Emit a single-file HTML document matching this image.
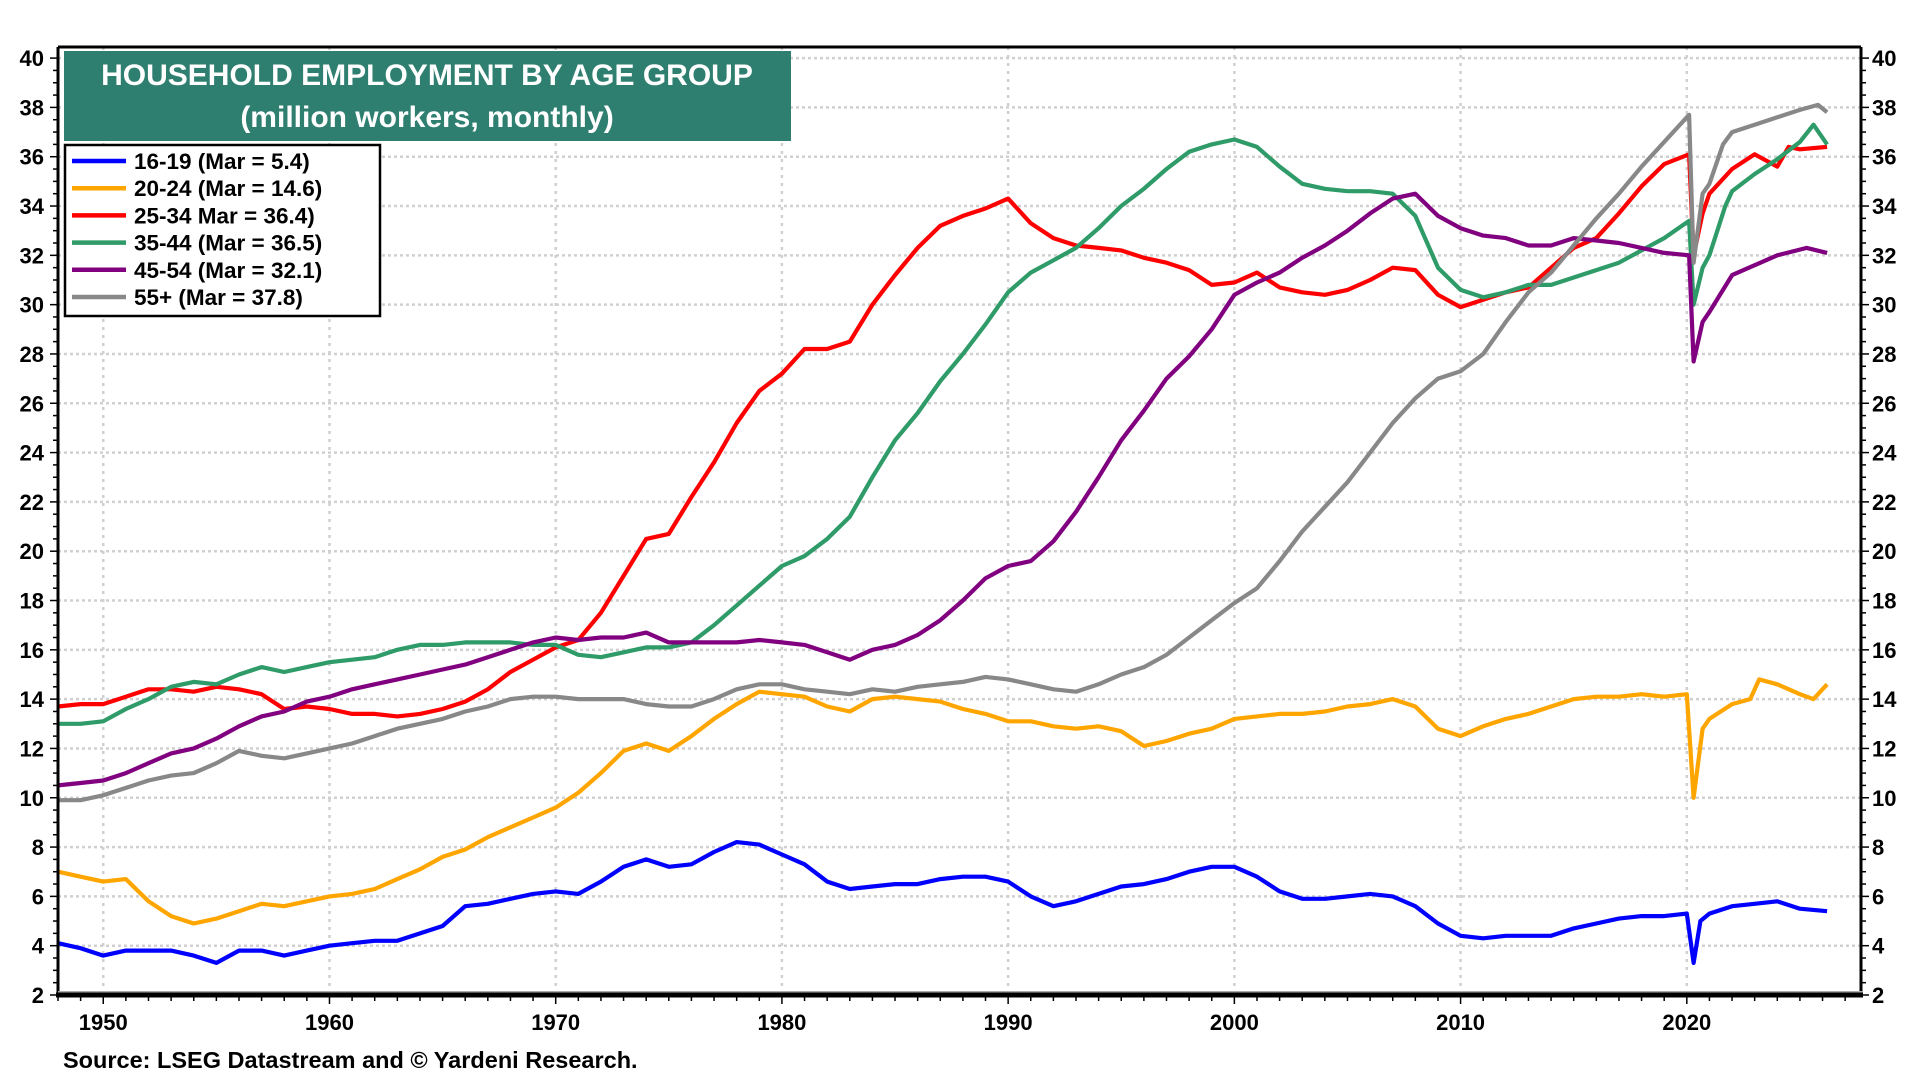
<!DOCTYPE html>
<html><head><meta charset="utf-8">
<style>
html,body{margin:0;padding:0;background:#fff;width:1920px;height:1080px;overflow:hidden}
svg{display:block}
text{font-family:"Liberation Sans",Arial,sans-serif;font-weight:bold}
</style></head>
<body>
<svg id="chart" width="1920" height="1080" xmlns="http://www.w3.org/2000/svg">
  <g id="grid"></g>
  <g id="series"></g>
  <g id="axes"></g>
  <g>
    <rect x="64" y="51" width="727" height="90" fill="#2f7f71"/>
    <text x="427" y="85" fill="#fff" font-size="30" text-anchor="middle">HOUSEHOLD EMPLOYMENT BY AGE GROUP</text>
    <text x="427" y="127" fill="#fff" font-size="30" text-anchor="middle">(million workers, monthly)</text>
  </g>
  <g id="legend">
    <rect x="65" y="145" width="315" height="171" fill="#fff" stroke="#000" stroke-width="2.5"/>
  </g>
  <text x="63" y="1068" font-size="23.5" fill="#000">Source: LSEG Datastream and © Yardeni Research.</text>
</svg>
<script>
// ---- data ----
const labels = ["16-19 (Mar = 5.4)","20-24 (Mar = 14.6)","25-34 Mar = 36.4)","35-44 (Mar = 36.5)","45-54 (Mar = 32.1)","55+ (Mar = 37.8)"];
const colors = ["#0000ff","#ffa500","#ff0000","#2e9b68","#800080","#888888"];
const yearsA = [1948,1949,1950,1951,1952,1953,1954,1955,1956,1957,1958,1959,1960,1961,1962,1963,1964,1965,1966,1967,1968,1969,1970,1971,1972,1973,1974,1975,1976,1977,1978,1979,1980,1981,1982,1983,1984,1985,1986,1987,1988,1989,1990,1991,1992,1993,1994,1995,1996,1997,1998,1999,2000,2001,2002,2003,2004,2005,2006,2007,2008,2009,2010,2011,2012,2013,2014,2015,2016,2017,2018,2019];
const teen = [4.1,3.9,3.6,3.8,3.8,3.8,3.6,3.3,3.8,3.8,3.6,3.8,4.0,4.1,4.2,4.2,4.5,4.8,5.6,5.7,5.9,6.1,6.2,6.1,6.6,7.2,7.5,7.2,7.3,7.8,8.2,8.1,7.7,7.3,6.6,6.3,6.4,6.5,6.5,6.7,6.8,6.8,6.6,6.0,5.6,5.8,6.1,6.4,6.5,6.7,7.0,7.2,7.2,6.8,6.2,5.9,5.9,6.0,6.1,6.0,5.6,4.9,4.4,4.3,4.4,4.4,4.4,4.7,4.9,5.1,5.2,5.2];
const teenTail = [[2020.0,5.3],[2020.3,3.3],[2020.6,5.0],[2021,5.3],[2022,5.6],[2023,5.7],[2024,5.8],[2025,5.5],[2026.2,5.4]];
const young = [7.0,6.8,6.6,6.7,5.8,5.2,4.9,5.1,5.4,5.7,5.6,5.8,6.0,6.1,6.3,6.7,7.1,7.6,7.9,8.4,8.8,9.2,9.6,10.2,11.0,11.9,12.2,11.9,12.5,13.2,13.8,14.3,14.2,14.1,13.7,13.5,14.0,14.1,14.0,13.9,13.6,13.4,13.1,13.1,12.9,12.8,12.9,12.7,12.1,12.3,12.6,12.8,13.2,13.3,13.4,13.4,13.5,13.7,13.8,14.0,13.7,12.8,12.5,12.9,13.2,13.4,13.7,14.0,14.1,14.1,14.2,14.1];
const youngTail = [[2020.0,14.2],[2020.3,10.0],[2020.7,12.8],[2021,13.2],[2022,13.8],[2022.8,14.0],[2023.2,14.8],[2024,14.6],[2025,14.2],[2025.6,14.0],[2026.2,14.6]];
const prime1 = [13.7,13.8,13.8,14.1,14.4,14.4,14.3,14.5,14.4,14.2,13.6,13.7,13.6,13.4,13.4,13.3,13.4,13.6,13.9,14.4,15.1,15.6,16.1,16.4,17.5,19.0,20.5,20.7,22.2,23.6,25.2,26.5,27.2,28.2,28.2,28.5,30.0,31.2,32.3,33.2,33.6,33.9,34.3,33.3,32.7,32.4,32.3,32.2,31.9,31.7,31.4,30.8,30.9,31.3,30.7,30.5,30.4,30.6,31.0,31.5,31.4,30.4,29.9,30.2,30.5,30.7,31.5,32.3,32.7,33.7,34.8,35.7];
const prime1Tail = [[2020.1,36.1],[2020.3,32.0],[2020.7,33.7],[2021,34.5],[2022,35.5],[2023,36.1],[2024,35.6],[2024.5,36.4],[2025,36.3],[2026.2,36.4]];
const prime2 = [13.0,13.0,13.1,13.6,14.0,14.5,14.7,14.6,15.0,15.3,15.1,15.3,15.5,15.6,15.7,16.0,16.2,16.2,16.3,16.3,16.3,16.2,16.2,15.8,15.7,15.9,16.1,16.1,16.3,17.0,17.8,18.6,19.4,19.8,20.5,21.4,23.0,24.5,25.6,26.9,28.0,29.2,30.5,31.3,31.8,32.3,33.1,34.0,34.7,35.5,36.2,36.5,36.7,36.4,35.6,34.9,34.7,34.6,34.6,34.5,33.6,31.5,30.6,30.3,30.5,30.8,30.8,31.1,31.4,31.7,32.2,32.7];
const prime2Tail = [[2020.1,33.4],[2020.3,30.0],[2020.7,31.5],[2021,32.0],[2021.7,34.0],[2022,34.6],[2023,35.3],[2024,35.9],[2025,36.6],[2025.6,37.3],[2026.2,36.5]];
const mid = [10.5,10.6,10.7,11.0,11.4,11.8,12.0,12.4,12.9,13.3,13.5,13.9,14.1,14.4,14.6,14.8,15.0,15.2,15.4,15.7,16.0,16.3,16.5,16.4,16.5,16.5,16.7,16.3,16.3,16.3,16.3,16.4,16.3,16.2,15.9,15.6,16.0,16.2,16.6,17.2,18.0,18.9,19.4,19.6,20.4,21.6,23.0,24.5,25.7,27.0,27.9,29.0,30.4,30.9,31.3,31.9,32.4,33.0,33.7,34.3,34.5,33.6,33.1,32.8,32.7,32.4,32.4,32.7,32.6,32.5,32.3,32.1];
const midTail = [[2020.1,32.0],[2020.3,27.7],[2020.7,29.3],[2021,29.7],[2022,31.2],[2023,31.6],[2024,32.0],[2025.3,32.3],[2026.2,32.1]];
const old = [9.9,9.9,10.1,10.4,10.7,10.9,11.0,11.4,11.9,11.7,11.6,11.8,12.0,12.2,12.5,12.8,13.0,13.2,13.5,13.7,14.0,14.1,14.1,14.0,14.0,14.0,13.8,13.7,13.7,14.0,14.4,14.6,14.6,14.4,14.3,14.2,14.4,14.3,14.5,14.6,14.7,14.9,14.8,14.6,14.4,14.3,14.6,15.0,15.3,15.8,16.5,17.2,17.9,18.5,19.6,20.8,21.8,22.8,24.0,25.2,26.2,27.0,27.3,28.0,29.3,30.5,31.3,32.4,33.5,34.5,35.6,36.6];
const oldTail = [[2020.1,37.7],[2020.3,31.7],[2020.7,34.5],[2021,34.9],[2021.6,36.5],[2022,37.0],[2023,37.3],[2024,37.6],[2025,37.9],[2025.8,38.1],[2026.2,37.8]];
const yTicks = [2,4,6,8,10,12,14,16,18,20,22,24,26,28,30,32,34,36,38,40];
const xTicks = [1950,1960,1970,1980,1990,2000,2010,2020];

// ---- scales ----
const L=58, R=1861, T=47, B=995;
const X0=1948, X1=2027.7, Y0=2, Y1=40.45;
const sx = v => L + (v-X0)/(X1-X0)*(R-L);
const sy = v => B - (v-Y0)/(Y1-Y0)*(B-T);
const NS="http://www.w3.org/2000/svg";
function mk(tag, attrs, parent){const e=document.createElementNS(NS,tag);for(const k in attrs)e.setAttribute(k,attrs[k]);parent.appendChild(e);return e;}

const grid=document.getElementById('grid');
yTicks.forEach(v=>{ if(v===2) return;
  const l=mk('line',{x1:L,x2:R,y1:sy(v),y2:sy(v),stroke:'#d0d0d0','stroke-width':2.5,'stroke-dasharray':'3,3'},grid);
  
  
});
xTicks.forEach(v=>{
  const l=mk('line',{x1:sx(v),x2:sx(v),y1:T,y2:B,stroke:'#d0d0d0','stroke-width':2.5,'stroke-dasharray':'3,5'},grid);
  
  
});

const seriesG=document.getElementById('series');
const all=[[teen,teenTail],[young,youngTail],[prime1,prime1Tail],[prime2,prime2Tail],[mid,midTail],[old,oldTail]];
const names=['line-16-19','line-20-24','line-25-34','line-35-44','line-45-54','line-55-plus'];
all.forEach((s,i)=>{
  const pts=yearsA.map((yr,j)=>[yr,s[0][j]]).concat(s[1]);
  const d=pts.map((p,j)=>(j?'L':'M')+sx(p[0]).toFixed(1)+','+sy(p[1]).toFixed(1)).join(' ');
  const p=mk('path',{d:d,fill:'none',stroke:colors[i],'stroke-width':4.2,'stroke-linejoin':'round'},seriesG);
  
  
});

const axes=document.getElementById('axes');
mk('line',{x1:L,x2:R,y1:T,y2:T,stroke:'#000','stroke-width':3},axes);
mk('line',{x1:L,x2:L,y1:T,y2:B,stroke:'#000','stroke-width':3},axes);
mk('line',{x1:R,x2:R,y1:T,y2:B,stroke:'#000','stroke-width':3},axes);
mk('line',{x1:L,x2:R+2,y1:B-3,y2:B-3,stroke:'#aaa','stroke-width':2},axes);
mk('line',{x1:L-2,x2:R+2,y1:B,y2:B,stroke:'#000','stroke-width':5},axes);
for(let v=2;v<=40.01;v+=0.5){
  const major=Math.abs(v-Math.round(v/2)*2)<0.01;
  const len=major?8:5;
  mk('line',{x1:L-len,x2:L,y1:sy(v),y2:sy(v),stroke:'#000','stroke-width':1.5},axes);
  mk('line',{x1:R,x2:R+len,y1:sy(v),y2:sy(v),stroke:'#000','stroke-width':1.5},axes);
}
for(let yr=1948;yr<=2027;yr++){
  const len=(yr%10===0)?9:6;
  mk('line',{x1:sx(yr),x2:sx(yr),y1:B,y2:B+len,stroke:'#000','stroke-width':1.5},axes);
}
yTicks.forEach(v=>{
  const t=mk('text',{x:44,y:sy(v)+8,'font-size':22,'text-anchor':'end',fill:'#000'},axes);
  t.textContent=v;
  
  
  const t2=mk('text',{x:1872,y:sy(v)+8,'font-size':22,'text-anchor':'start',fill:'#000'},axes);
  t2.textContent=v;
  
  
});
xTicks.forEach(v=>{
  const t=mk('text',{x:sx(v),y:1030,'font-size':22,'text-anchor':'middle',fill:'#000'},axes);
  t.textContent=v;
  
  
});

const leg=document.getElementById('legend');
labels.forEach((lab,i)=>{
  const y=161+i*27.2;
  const g=mk('g',{},leg);
  
  
  mk('line',{x1:72,x2:126,y1:y,y2:y,stroke:colors[i],'stroke-width':4.5},g);
  const t=mk('text',{x:134,y:y+8,'font-size':22.5,fill:'#000'},g);
  t.textContent=lab;
});
</script>
</body></html>
